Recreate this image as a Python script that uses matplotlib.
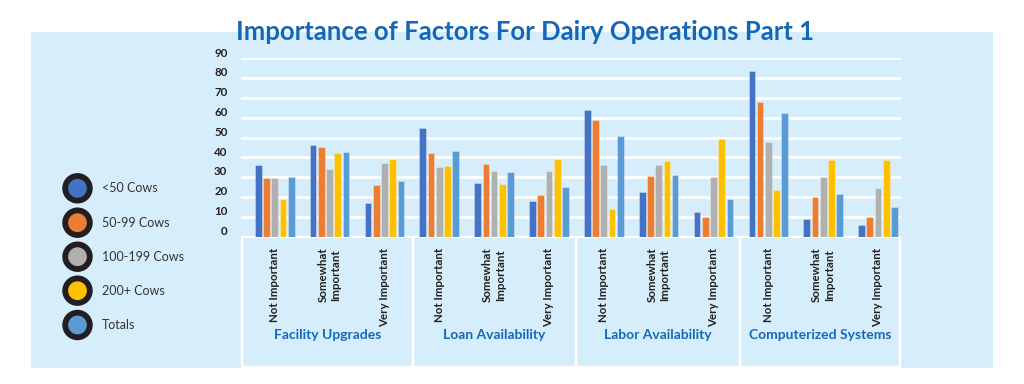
import matplotlib
matplotlib.use("Agg")
import matplotlib.pyplot as plt
import numpy as np
from matplotlib.patches import Rectangle, Circle
import matplotlib.transforms as mtransforms

plt.rcParams['font.family'] = ['Lato', 'DejaVu Sans']

# ---------------- data ----------------
title = "Importance of Factors For Dairy Operations Part 1"
factors = ["Facility Upgrades", "Loan Availability", "Labor Availability", "Computerized Systems"]
levels = ["Not Important", "Somewhat\nImportant", "Very Important"]
series_names = ["<50 Cows", "50-99 Cows", "100-199 Cows", "200+ Cows", "Totals"]
series_colors = ["#4472C4", "#ED7D31", "#B0B0B0", "#FFC000", "#5B9BD5"]

# values ordered: factor x level (12 groups)
under50 = [36, 46, 17,   55, 27, 18,   64, 22.5, 12.5,   83.5, 9, 6]
c50_99 = [29.5, 45, 26,  42, 36.5, 21,  59, 30.5, 10,   68, 20, 10]
c100_199 = [29.5, 34, 37,  35, 33, 33,  36, 36, 30,   47.5, 30, 24.5]
c200p = [19, 42, 39,  35.5, 26.5, 39,  14, 38, 49,   23.5, 38.5, 38.5]
totals = [30, 42.5, 28,  43, 32.5, 25,  51, 31, 19,   62.5, 21.5, 15]
series_values = [under50, c50_99, c100_199, c200p, totals]
yticks = [0, 10, 20, 30, 40, 50, 60, 70, 80, 90]

W, H = 1024, 384
fig = plt.figure(figsize=(W / 100, H / 100), dpi=100)
fig.patch.set_facecolor("white")

# background / decoration axes in pixel coordinates
bg = fig.add_axes([0, 0, 1, 1], zorder=0)
bg.set_xlim(0, W)
bg.set_ylim(H, 0)
bg.axis("off")
panel_color = "#D6EEFB"
bg.add_patch(Rectangle((31, 31.5), 962, 336.5, facecolor=panel_color, edgecolor="none"))

# category boxes under axis
box_edges = [241.5, 413, 576, 740, 900]
for i in range(4):
    bg.add_patch(Rectangle((box_edges[i], 237), box_edges[i + 1] - box_edges[i], 129.5,
                           facecolor="none", edgecolor="white", lw=1.6))
    bg.text((box_edges[i] + box_edges[i + 1]) / 2, 335, factors[i], ha="center", va="center",
            fontsize=10, fontweight="bold", color="#1668BD")

# title
bg.text(525.5, 32.5, title, ha="center", va="center", fontsize=18.5, fontweight="bold", color="#1466B8")

# legend
leg_y = [188.3, 222.7, 256.7, 290.7, 325]
for name, col, yy in zip(series_names, series_colors, leg_y):
    bg.add_patch(Circle((77.5, yy), 12.3, facecolor=col, edgecolor="#231F20", lw=4.2))
    bg.text(101.5, yy, name, ha="left", va="center", fontsize=9, color="#333333")

# main axes
left, right = 241.3, 900.5
top, bottom = 58.3, 236.5
ax = fig.add_axes([left / W, 1 - bottom / H, (right - left) / W, (bottom - top) / H], zorder=1)
ax.patch.set_alpha(0)
ax.set_ylim(0, 90)
ax.set_xlim(-0.61, 11.41)

x = np.arange(12)
pitch = 0.15
bw = 0.122
for k, (vals, col) in enumerate(zip(series_values, series_colors)):
    ax.bar(x + (k - 2) * pitch, vals, width=bw, color=col, edgecolor=(1, 1, 1, 0.35),
           linewidth=0.6, zorder=3)

for t in yticks[1:]:
    ax.axhline(t, color="white", lw=2.0, zorder=1)

for s in ax.spines.values():
    s.set_visible(False)

ax.set_yticks(yticks)
ax.set_yticklabels([str(t) for t in yticks], fontsize=8.3, fontweight="bold", color="#231F20")
ax.tick_params(axis="y", length=0, pad=10)
ax.set_xticks(x)
ax.set_xticklabels(levels * 4, rotation=90, fontsize=8.3, fontweight="bold", color="#231F20",
                   va="top", ha="center")
ax.tick_params(axis="x", length=0, pad=8)

offset = mtransforms.ScaledTranslation(0, 4.5 / 72, fig.dpi_scale_trans)
for lab in ax.get_yticklabels():
    lab.set_transform(lab.get_transform() + offset)

fig.savefig("out.png", dpi=100)
